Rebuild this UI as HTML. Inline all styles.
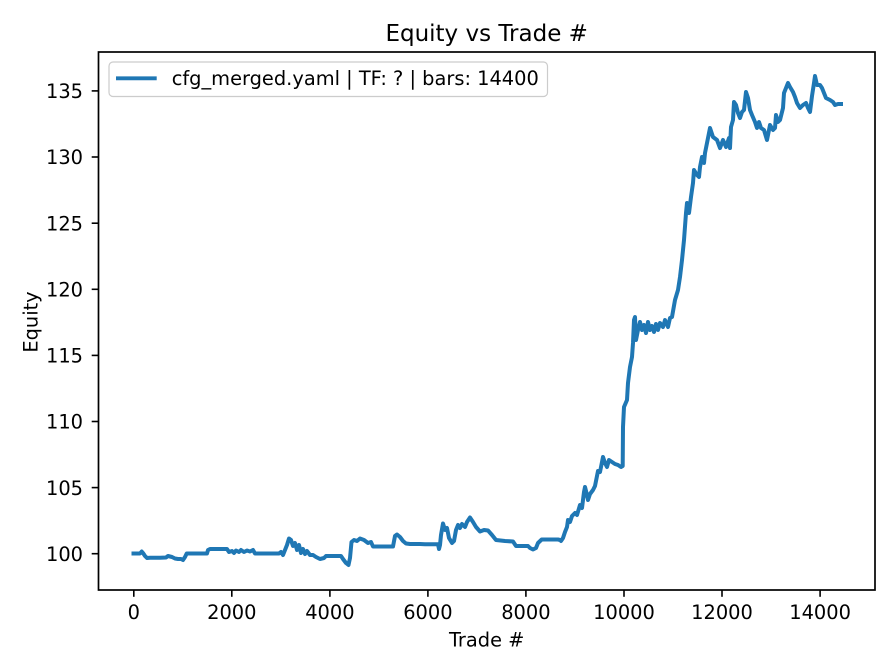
<!DOCTYPE html>
<html><head><meta charset="utf-8"><style>
html,body{margin:0;padding:0;background:#fff;}
svg{display:block;}
text{font-family:"DejaVu Sans","Liberation Sans",sans-serif;fill:#000;}
.t{font-size:19.4px;}
.ttl{font-size:23px;}
</style></head><body>
<svg width="896" height="672" viewBox="0 0 896 672" xmlns="http://www.w3.org/2000/svg">
<rect width="896" height="672" fill="#fff"/>
<text class="ttl" x="486.7" y="41" text-anchor="middle">Equity vs Trade #</text>
<g stroke="#000" stroke-width="1.6">
<line x1="133.8" y1="590" x2="133.8" y2="596.8"/>
<line x1="231.8" y1="590" x2="231.8" y2="596.8"/>
<line x1="329.9" y1="590" x2="329.9" y2="596.8"/>
<line x1="427.9" y1="590" x2="427.9" y2="596.8"/>
<line x1="525.9" y1="590" x2="525.9" y2="596.8"/>
<line x1="624.0" y1="590" x2="624.0" y2="596.8"/>
<line x1="722.0" y1="590" x2="722.0" y2="596.8"/>
<line x1="820.1" y1="590" x2="820.1" y2="596.8"/>
<line x1="91.7" y1="553.7" x2="98.5" y2="553.7"/>
<line x1="91.7" y1="487.6" x2="98.5" y2="487.6"/>
<line x1="91.7" y1="421.5" x2="98.5" y2="421.5"/>
<line x1="91.7" y1="355.4" x2="98.5" y2="355.4"/>
<line x1="91.7" y1="289.3" x2="98.5" y2="289.3"/>
<line x1="91.7" y1="223.2" x2="98.5" y2="223.2"/>
<line x1="91.7" y1="157.0" x2="98.5" y2="157.0"/>
<line x1="91.7" y1="90.9" x2="98.5" y2="90.9"/>
</g>
<g text-anchor="middle">
<text class="t" x="133.8" y="619">0</text>
<text class="t" x="231.8" y="619">2000</text>
<text class="t" x="329.9" y="619">4000</text>
<text class="t" x="427.9" y="619">6000</text>
<text class="t" x="525.9" y="619">8000</text>
<text class="t" x="624.0" y="619">10000</text>
<text class="t" x="722.0" y="619">12000</text>
<text class="t" x="820.1" y="619">14000</text>
</g>
<g text-anchor="end">
<text class="t" x="83" y="560.9">100</text>
<text class="t" x="83" y="494.8">105</text>
<text class="t" x="83" y="428.7">110</text>
<text class="t" x="83" y="362.6">115</text>
<text class="t" x="83" y="296.5">120</text>
<text class="t" x="83" y="230.4">125</text>
<text class="t" x="83" y="164.2">130</text>
<text class="t" x="83" y="98.1">135</text>
</g>
<text class="t" x="486.7" y="646.5" text-anchor="middle">Trade #</text>
<text class="t" transform="translate(37.3,322) rotate(-90)" text-anchor="middle">Equity</text>
<path fill="none" stroke="#1f77b4" stroke-width="4" stroke-linejoin="round" stroke-linecap="square" d="M133.5,553.5 L140,553.5 L141.7,551.5 L143,553 L145,556 L147,558 L150,557.7 L160,557.7 L166,557.5 L168,556 L170,556.5 L172,557 L175,558.5 L178,559 L181,559 L183,560 L185,557 L186.7,553.5 L200,553.5 L207,553.5 L208,550 L210,549 L227,549 L229,552 L232,551 L234,553 L236,550.5 L239,552 L241,550 L244,552 L247,550.5 L250,551.5 L253,550 L255,553.5 L270,553.5 L279,553.5 L281,552 L283,555 L285,550 L287,545 L289,538.5 L291,540 L293,546 L295,543 L297,550 L299,545 L301,553 L303,549 L305,554 L307,551 L310,555 L313,555 L316,557 L320,559 L324,558 L326,556 L335,556 L341,556 L343,559 L346,563 L348.5,565 L350,558 L351.5,542 L354,540 L357,541 L360,538.5 L364,540 L368,543 L371,542 L373,546.5 L380,546.5 L393,546.5 L395,536 L397,534.5 L400,537 L403,541 L406,543.5 L410,544 L420,544 L425,544.3 L438,544.3 L439,549 L440,545 L441,535 L443,523.5 L445,530 L447,528 L449,538 L452,543 L454,541 L456,530 L458,525 L460,528 L462,524 L465,527 L467,522 L470,517.5 L473,522 L476,527 L480,531.5 L484,530 L488,530.5 L492,535 L496,540 L505,541 L513,541.5 L516,546 L528,546 L530,548 L533,549.5 L536,548 L538,543 L541.7,539.5 L558,539.5 L560,540 L561,541 L563,538 L565,532 L567,527 L568,520 L570,522 L572,516 L575,513 L577,515 L580,505 L582,508 L584,492 L585,487 L587,495 L588,500 L590,494 L593,490 L595,486 L598,471 L600,472 L603,457 L605,463 L607,467 L609,460 L612,462 L615,464 L618,465 L621,467 L622.7,466 L623,427 L624,407 L627,400 L628,383 L630,367 L632,357 L633,343 L634,320 L635,317 L636,340 L638,330 L640,322 L642,330 L644,325 L646,333 L648,322 L650,330 L652,326 L654,332 L656,324 L658,330 L660,323 L663,327 L665,320 L668,327 L670,318 L672,317 L675,300 L678,290 L680,277 L682,260 L684,240 L686,213 L687,203 L689,213 L691,197 L693,183 L694,170 L697,175 L699,177 L700,167 L702,157 L704,163 L705,153 L707,143 L710,128 L713,137 L717,140 L720,148 L723,140 L726,147 L729,138 L730,148 L731,127 L733,120 L734,102 L736,105 L738,113 L740,118 L742,112 L744,110 L746,92 L748,98 L750,110 L752,115 L755,122 L757,128 L759,122 L761,128 L764,130 L767,140 L770,125 L773,130 L775,128 L776,115 L778,122 L780,120 L783,108 L784,93 L788,83 L790,87 L793,92 L795,97 L797,103 L800,108 L803,105 L806,103 L808,108 L810,112 L812,96 L814,83 L815,76 L817,85 L820,85 L822,88 L824,93 L826,98 L830,100 L833,102 L835,105 L838,104 L841,104"/>
<rect x="98.5" y="52" width="776.5" height="538" fill="none" stroke="#000" stroke-width="1.7"/>
<rect x="109" y="62" width="438.5" height="34.5" rx="4" ry="4" fill="#fff" fill-opacity="0.8" stroke="#cccccc" stroke-width="1.2"/>
<line x1="116" y1="78.3" x2="156.7" y2="78.3" stroke="#1f77b4" stroke-width="3.8"/>
<text class="t" x="171.7" y="85">cfg_merged.yaml | TF: ? | bars: 14400</text>
</svg>
</body></html>
